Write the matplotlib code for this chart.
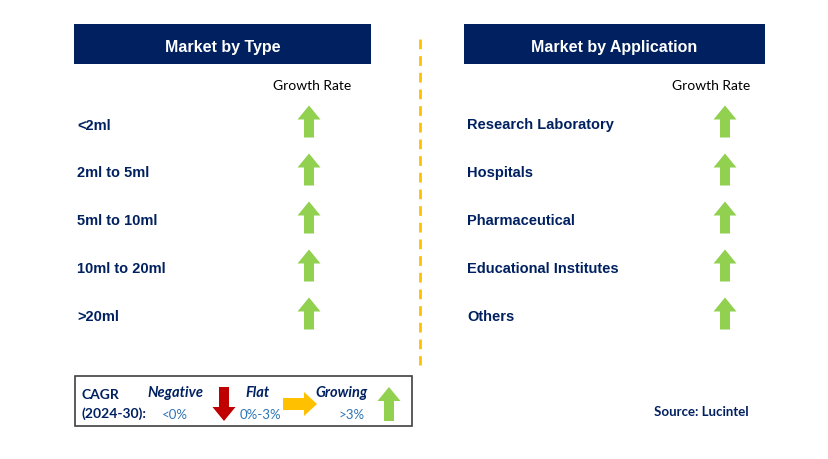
import matplotlib.pyplot as plt
from matplotlib.patches import Rectangle, Polygon

# chart content
type_labels = ["<2ml", "2ml to 5ml", "5ml to 10ml", "10ml to 20ml", ">20ml"]
type_growth = ["up", "up", "up", "up", "up"]
app_labels = ["Research Laboratory", "Hospitals", "Pharmaceutical",
              "Educational Institutes", "Others"]
app_growth = ["up", "up", "up", "up", "up"]
legend_names = ["Negative", "Flat", "Growing"]
legend_ranges = ["<0%", "0%-3%", ">3%"]

NAVY = "#002060"
GREEN = "#92D050"
RED = "#C00000"
ORANGE = "#FFC000"
TEXT_BLUE = "#2E75B6"


def arrow(ax, cx, cy, direction, color, w=23, h=32, shaft=10, head=14):
    # arrow shape in local coords pointing up, then rotated
    pts = [(-shaft / 2, h / 2), (shaft / 2, h / 2), (shaft / 2, -h / 2 + head),
           (w / 2, -h / 2 + head), (0, -h / 2), (-w / 2, -h / 2 + head),
           (-shaft / 2, -h / 2 + head)]
    if direction == "down":
        pts = [(x, -y) for x, y in pts]
    elif direction == "right":
        pts = [(-y, x) for x, y in pts]
    ax.add_patch(Polygon([(cx + x, cy + y) for x, y in pts], closed=True,
                         facecolor=color, edgecolor="none"))


fig = plt.figure(figsize=(8.29, 4.60), dpi=100)
ax = fig.add_axes([0, 0, 1, 1])
ax.set_xlim(0, 829)
ax.set_ylim(460, 0)
ax.axis("off")

arrow_color = {"up": GREEN, "down": RED, "right": ORANGE}


def panel(x0, x1, title, labels, growth, arrow_x, gr_x):
    ax.add_patch(Rectangle((x0, 25), x1 - x0, 40, facecolor=NAVY, edgecolor="none"))
    ax.text((x0 + x1) / 2, 46, title, color="white", fontsize=11.5,
            fontweight="bold", family="Liberation Sans", ha="center",
            va="center_baseline")
    ax.text(gr_x, 85, "Growth Rate", color="black", fontsize=10,
            family="Lato", ha="center", va="center_baseline")
    for i, (lab, g) in enumerate(zip(labels, growth)):
        y = 124 + i * 48
        ax.text(x0 + 3, y, lab, color=NAVY, fontsize=10.5, fontweight="bold",
                family="Liberation Sans", ha="left", va="center_baseline")
        arrow(ax, arrow_x, y - 1.5, g, arrow_color[g])


panel(74, 371, "Market by Type", type_labels, type_growth, 309, 312)
panel(464, 765, "Market by Application", app_labels, app_growth, 725, 711)

# divider
ax.plot([420, 420], [40, 366], color=ORANGE, lw=2, linestyle=(0, (3.5, 2.5)))

# legend box
ax.add_patch(Rectangle((75, 377), 337, 50, facecolor="white",
                       edgecolor="#404040", lw=1.2))
ax.text(82, 394, "CAGR", color=NAVY, fontsize=10, family="Lato",
        fontweight="bold", va="center_baseline")
ax.text(82, 413, "(2024-30):", color=NAVY, fontsize=10, family="Lato",
        fontweight="bold", va="center_baseline")
name_x = [175, 258, 342]
range_x = [175, 260, 352]
icons = ["down", "right", "up"]
icon_x = [224, 300, 389]
for nm, rg, nx, rx, ic, ix in zip(legend_names, legend_ranges, name_x, range_x,
                                  icons, icon_x):
    ax.text(nx, 392, nm, color=NAVY, fontsize=10.5, family="Lato",
            fontweight="bold", style="italic", ha="center", va="center_baseline")
    ax.text(rx, 414, rg, color=TEXT_BLUE, fontsize=9.5, family="Lato",
            ha="center", va="center_baseline")
    if ic == "right":
        arrow(ax, ix, 405, ic, arrow_color[ic], w=24, h=34, shaft=12, head=13)
    else:
        arrow(ax, ix, 405, ic, arrow_color[ic], w=23, h=34, shaft=10, head=14)

ax.text(749, 411, "Source: Lucintel", color=NAVY, fontsize=9.5, family="Lato",
        fontweight="bold", ha="right", va="center_baseline")

fig.savefig("out.png", dpi=100)
